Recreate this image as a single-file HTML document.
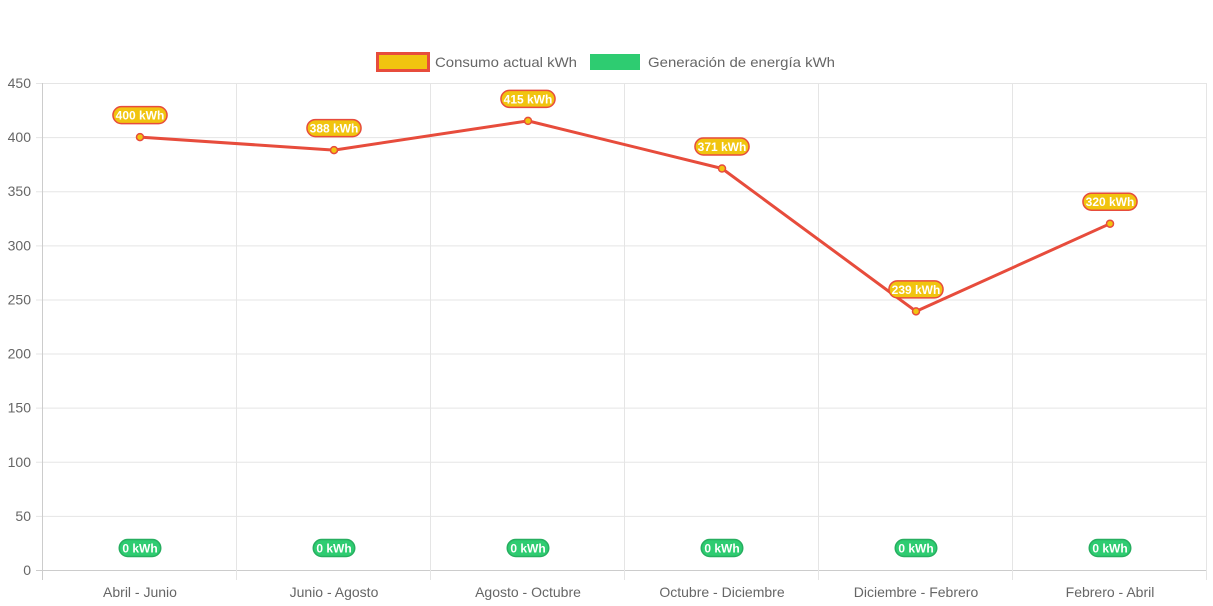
<!DOCTYPE html>
<html><head><meta charset="utf-8"><style>
html,body{margin:0;padding:0;background:#fff;}
svg{display:block;font-family:"Liberation Sans",Arial,sans-serif;}
</style></head><body>
<svg id="chart" width="1213" height="606">
<g>
<g>
<rect x="377.5" y="53.5" width="51" height="17" fill="#f1c40f" stroke="#e74c3c" stroke-width="3"/>
<text x="435" y="67" font-size="14" fill="#666" textLength="142" lengthAdjust="spacingAndGlyphs">Consumo actual kWh</text></g>
<g>
<rect x="590" y="54" width="50" height="16" fill="#2ecc71"/>
<text x="648" y="67" font-size="14" fill="#666" textLength="187" lengthAdjust="spacingAndGlyphs">Generación de energía kWh</text></g>
</g>
<g id="grid"></g>
<g id="marks"></g>
</svg>
<script>
const categories=["Abril - Junio","Junio - Agosto","Agosto - Octubre","Octubre - Diciembre","Diciembre - Febrero","Febrero - Abril"];
const consumo=[400,388,415,371,239,320];
const generacion=[0,0,0,0,0,0];
const yTicks=[0,50,100,150,200,250,300,350,400,450];
const NS="http://www.w3.org/2000/svg";
const L=43,R=1207,T=83,B=570,yMax=450;
const bw=(R-L)/categories.length;
const xc=i=>L+bw*(i+0.5);
const y=v=>B-(v/yMax)*(B-T);
function mk(tag,attrs,parent){const e=document.createElementNS(NS,tag);for(const k in attrs)e.setAttribute(k,attrs[k]);parent.appendChild(e);return e;}
const grid=document.getElementById('grid'),marks=document.getElementById('marks');
yTicks.forEach(t=>{
 const ln=mk('line',{x1:L-7,x2:R,y1:y(t)+0.5,y2:y(t)+0.5,stroke:t===0?'#ccc':'#e5e5e5'},grid);
 
 
 const tx=mk('text',{x:L-12,y:y(t)+5,'text-anchor':'end','font-size':14,fill:'#666'},grid);
 tx.textContent=t;
 
 
});
for(let i=0;i<=categories.length;i++){
 const x=Math.round(L+bw*i)-0.5;
 const ln=mk('line',{x1:x,x2:x,y1:T,y2:B+10,stroke:i===0?'#ccc':'#e5e5e5'},grid);
 
 
}
categories.forEach((c,i)=>{
 const tx=mk('text',{x:xc(i),y:597,'text-anchor':'middle','font-size':14,fill:'#666'},grid);
 tx.textContent=c;
 
 
});
const line=mk('polyline',{points:consumo.map((v,i)=>xc(i)+','+y(v)).join(' '),fill:'none',stroke:'#e74c3c','stroke-width':3,'stroke-linejoin':'round'},marks);


function label(x,yy,txt,fill,stroke,name){
 const w=txt.length*6.3+10;
 const g=mk('g',{},marks);
 
 
 mk('rect',{x:x-w/2,y:yy-8.5,width:w,height:17,rx:8.5,fill:fill,stroke:stroke,'stroke-width':1.5},g);
 const t=mk('text',{x:x,y:yy+4.5,'text-anchor':'middle','font-size':12,'font-weight':'bold',fill:'#fff'},g);
 t.textContent=txt;
}
consumo.forEach((v,i)=>{
 const c=mk('circle',{cx:xc(i),cy:y(v),r:3.5,fill:'#f1c40f',stroke:'#e74c3c','stroke-width':1.5},marks);
 
 
 label(xc(i),y(v)-22,v+' kWh','#f1c40f','#e74c3c','consumo-value-label');
});
generacion.forEach((v,i)=>{
 label(xc(i),y(v)-22,v+' kWh','#2ecc71','#27ae60','generacion-value-label');
});
</script>
</body></html>
